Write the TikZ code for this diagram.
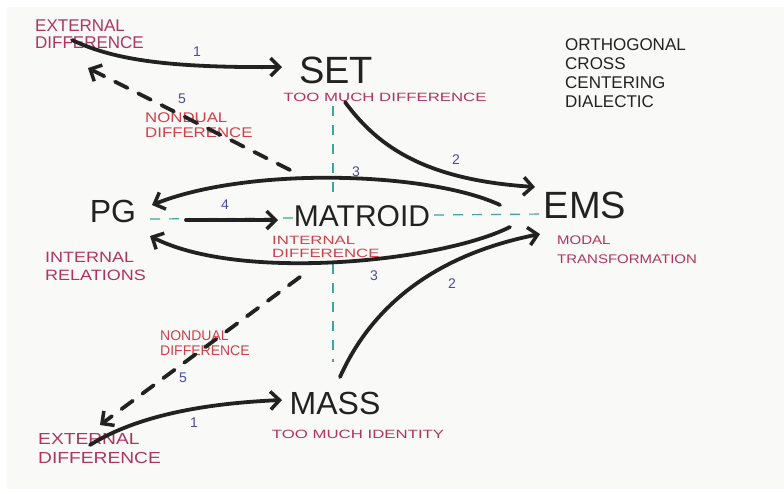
\documentclass[tikz,border=0pt]{standalone}
\usepackage{fontspec}
\setmainfont{Liberation Sans}
\newfontfamily\handW[FakeStretch=1.4]{Liberation Sans}
\newfontfamily\handM[FakeStretch=1.2]{Liberation Sans}
\usetikzlibrary{arrows.meta}

\definecolor{ink}{HTML}{222222}
\definecolor{rose}{HTML}{B03462}
\definecolor{scarlet}{HTML}{CF4049}
\definecolor{violet}{HTML}{4B4B9E}
\definecolor{teal}{HTML}{3AA89A}
\definecolor{paper}{HTML}{F9F9F8}

\tikzset{
  big/.style={text=ink, inner sep=0pt, font=\fontsize{#1}{#1}\selectfont},
  note/.style={inner sep=0pt, align=left, anchor=north west},
  num/.style={text=violet, inner sep=0pt, font=\fontsize{14}{14}\selectfont},
  stroke/.style={draw=ink, line width=3.8pt, line cap=round,
    -{Straight Barb[length=9pt,width=18pt,line width=3.5pt]}},
  dashstroke/.style={stroke, dash pattern=on 14pt off 12pt},
  axis/.style={draw=teal, line width=1.2pt, dash pattern=on 10pt off 9pt}
}

\begin{document}
\begin{tikzpicture}[x=1pt,y=-1pt]
\useasboundingbox (0,0) rectangle (784,493);
\fill[white] (0,0) rectangle (784,493);
\fill[paper] (7,7) rectangle (784,489);

% ---- main terms ----
\node[big=38] (set) at (336,70) {SET};
\node[big=38] (ems) at (585,205) {EMS};
\node[big=32] (pg) at (113,211) {PG};
\node[big=30] (matroid) at (362,216) {MATROID};
\node[big=32] (mass) at (335,403) {MASS};

% ---- annotations ----
\node[note, text=rose, font=\fontsize{17}{17}\selectfont] (ext1) at (35,20) {EXTERNAL\\DIFFERENCE};
\node[text=rose, inner sep=0pt, anchor=base, font=\handW\fontsize{12}{12}\selectfont] (tmd) at (385,101) {TOO MUCH DIFFERENCE};
\node[note, text=scarlet, font=\handM\fontsize{14}{15}\selectfont] (nd1) at (145,113) {NONDUAL\\DIFFERENCE};
\node[note, text=scarlet, font=\handW\fontsize{12}{13}\selectfont] (intd) at (272,236) {INTERNAL\\DIFFERENCE};
\node[note, text=rose, font=\handM\fontsize{15}{18}\selectfont] (intr) at (45,252) {INTERNAL\\RELATIONS};
\node[note, text=rose, font=\handM\fontsize{12.5}{19}\selectfont] (modal) at (557,236) {MODAL\\TRANSFORMATION};
\node[note, text=scarlet, font=\fontsize{14}{15}\selectfont] (nd2) at (160,331) {NONDUAL\\DIFFERENCE};
\node[text=rose, inner sep=0pt, anchor=base, font=\handW\fontsize{12}{12}\selectfont] (tmi) at (358,438) {TOO MUCH IDENTITY};
\node[note, text=rose, font=\handM\fontsize{16}{19}\selectfont] (ext2) at (38,433) {EXTERNAL\\DIFFERENCE};
\node[note, text=ink, font=\fontsize{17}{19}\selectfont] (title) at (565,38) {ORTHOGONAL\\CROSS\\CENTERING\\DIALECTIC};

% ---- teal cross through the centre ----
\coordinate (vA) at (333,106);
\coordinate (vB) at (333,196);
\coordinate (vC) at (333,264);
\coordinate (vD) at (333,362);
\coordinate (hA) at (150,219);
\coordinate (hB) at (293,218);
\coordinate (hC) at (434,215);
\coordinate (hD) at (545,214);
\draw[axis] (vA) -- (vB);
\draw[axis] (vC) -- (vD);
\draw[axis] (hA) -- (hB);
\draw[axis] (hC) -- (hD);

% ---- connector end points ----
\coordinate (e1a) at (72,40);
\coordinate (e1b) at (282,67);
\coordinate (s2a) at (345,102);
\coordinate (s2b) at (535,187);
\coordinate (t3a) at (500,205);
\coordinate (t3b) at (152,205);
\coordinate (b3a) at (510,227);
\coordinate (b3b) at (150,236);
\coordinate (m4a) at (186,220);
\coordinate (m4b) at (278,220);
\coordinate (m2a) at (340,377);
\coordinate (m2b) at (540,234);
\coordinate (d5a) at (290,170);
\coordinate (d5b) at (88,68);
\coordinate (u5a) at (300,277);
\coordinate (u5b) at (100,425);
\coordinate (x1a) at (90,445);
\coordinate (x1b) at (282,400);

% ---- connectors ----
\draw[stroke] (e1a) .. controls (110,58) and (160,68) .. (e1b);
\draw[stroke] (s2a) .. controls (380,150) and (430,180) .. (s2b);
\draw[stroke] (t3a) .. controls (430,172) and (250,166) .. (t3b);
\draw[stroke] (b3a) .. controls (440,262) and (240,282) .. (b3b);
\draw[stroke] (m4a) -- (m4b);
\draw[stroke] (m2a) .. controls (370,310) and (430,256) .. (m2b);
\draw[dashstroke] (d5a) -- (d5b);
\draw[dashstroke] (u5a) -- (u5b);
\draw[stroke] (x1a) .. controls (130,420) and (190,404) .. (x1b);

% ---- step numbers ----
\node[num] (n1t) at (197,52) {1};
\node[num] (n5t) at (182,99) {5};
\node[num] (n2t) at (456,160) {2};
\node[num] (n3t) at (356,172) {3};
\node[num] (n4) at (225,205) {4};
\node[num] (n3b) at (374,276) {3};
\node[num] (n2b) at (452,284) {2};
\node[num] (n5b) at (183,378) {5};
\node[num] (n1b) at (194,423) {1};
\end{tikzpicture}
\end{document}
